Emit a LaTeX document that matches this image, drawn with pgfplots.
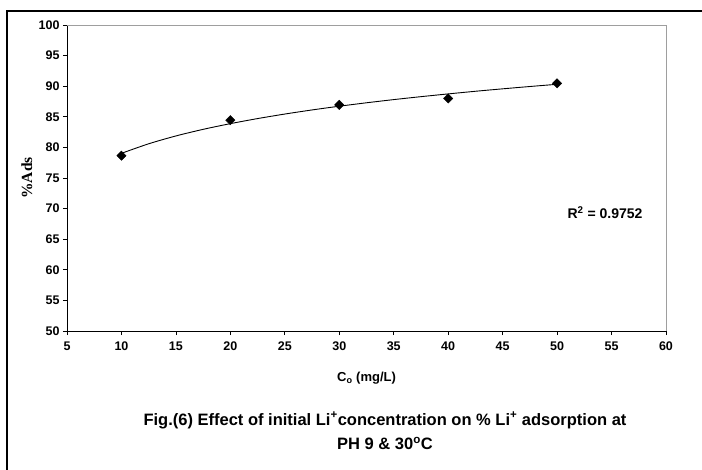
\documentclass[border=0pt]{standalone}
\usepackage{fontspec}
\setmainfont{Liberation Sans}
\newfontfamily\timesfont{Liberation Serif}
\usepackage{pgfplots}
\pgfplotsset{compat=1.18}

\definecolor{frame}{gray}{0.62}

\begin{document}
\begin{tikzpicture}
% page = 702 x 470, origin at top-left corner
\path[use as bounding box] (0pt,0pt) rectangle (702pt,-470pt);
\draw[line width=1.2pt] (7pt,-470pt) -- (7pt,-11pt) -- (702pt,-11pt);

\begin{axis}[
    at={(67pt,-331pt)}, anchor=south west,
    width=599pt, height=306pt,
    scale only axis,
    xmin=5, xmax=60, ymin=50, ymax=100,
    xtick distance=5, ytick distance=5,
    axis x line*=bottom, axis y line*=left,
    axis line style={black, line width=0.9pt, -},
    tick align=outside,
    major tick length=4pt,
    tick style={black, line width=0.8pt},
    /pgf/number format/assume math mode=true,
    ticklabel style={font=\fontsize{12.5}{14}\selectfont\bfseries},
    xticklabel style={yshift=-3pt},
    xlabel={C\textsubscript{o} (mg/L)},
    xlabel style={font=\fontsize{13}{15}\selectfont\bfseries,
        at={(axis description cs:0.5,-0.154)}, anchor=center},
    ylabel={\%Ads},
    ylabel style={font=\fontsize{15.5}{17}\selectfont\timesfont\bfseries,
        at={(axis description cs:-0.067,0.5)}, anchor=center},
    clip=false,
]
\draw[frame, line width=0.9pt] (rel axis cs:0,1) -- (rel axis cs:1,1) -- (rel axis cs:1,0);

% logarithmic trend line
\addplot[black, line width=0.9pt, smooth] coordinates {
    (10,79.03) (12.5,80.59) (15,81.87) (17.5,82.95) (20,83.88)
    (22.5,84.71) (25,85.45) (27.5,86.12) (30,86.73) (32.5,87.29)
    (35,87.81) (37.5,88.29) (40,88.74) (42.5,89.17) (45,89.57)
    (47.5,89.95) (50,90.31)
};

% measured points
\addplot[only marks, mark=square*, mark size=3.3pt,
    mark options={rotate=45, fill=black, draw=black}] coordinates {
    (10,78.65) (20,84.45) (30,86.95) (40,88.0) (50,90.47)
};

\node[font=\fontsize{14}{16}\selectfont\bfseries] at (axis cs:54.4,69.3)
    {R\textsuperscript{2} = 0.9752};
\end{axis}

\node[align=center, font=\fontsize{16.5}{24.5}\selectfont\bfseries] at (385pt,-431pt)
    {Fig.(6) Effect of initial Li\textsuperscript{+}concentration on \% Li\textsuperscript{+} adsorption at\\
     PH 9 \& 30\textsuperscript{o}C};
\end{tikzpicture}
\end{document}
